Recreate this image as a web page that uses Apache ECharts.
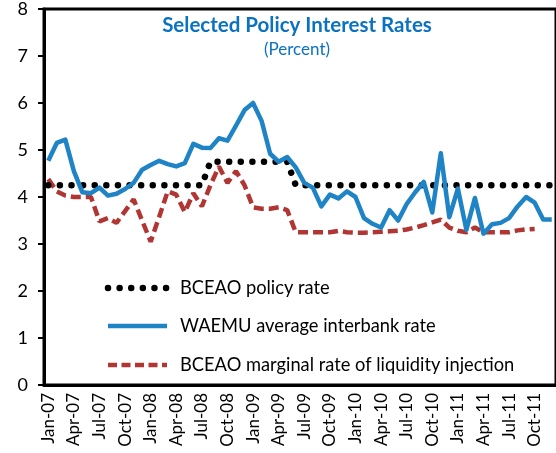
<!DOCTYPE html>
<html>
<head>
<meta charset="utf-8">
<script src="https://cdn.jsdelivr.net/npm/echarts@6/dist/echarts.min.js"></script>
<style>
  html, body { margin: 0; padding: 0; background: #fff; }
  #chart { width: 556px; height: 453px; }
</style>
</head>
<body>
<div id="chart"></div>
<script>
// monthly, Jan-07 .. Dec-11
const months = [
  'Jan-07', 'Feb-07', 'Mar-07', 'Apr-07', 'May-07', 'Jun-07', 'Jul-07', 'Aug-07', 'Sep-07', 'Oct-07', 'Nov-07', 'Dec-07',
  'Jan-08', 'Feb-08', 'Mar-08', 'Apr-08', 'May-08', 'Jun-08', 'Jul-08', 'Aug-08', 'Sep-08', 'Oct-08', 'Nov-08', 'Dec-08',
  'Jan-09', 'Feb-09', 'Mar-09', 'Apr-09', 'May-09', 'Jun-09', 'Jul-09', 'Aug-09', 'Sep-09', 'Oct-09', 'Nov-09', 'Dec-09',
  'Jan-10', 'Feb-10', 'Mar-10', 'Apr-10', 'May-10', 'Jun-10', 'Jul-10', 'Aug-10', 'Sep-10', 'Oct-10', 'Nov-10', 'Dec-10',
  'Jan-11', 'Feb-11', 'Mar-11', 'Apr-11', 'May-11', 'Jun-11', 'Jul-11', 'Aug-11', 'Sep-11', 'Oct-11', 'Nov-11', 'Dec-11'
]

const policyRate = [
  4.25, 4.25, 4.25, 4.25, 4.25, 4.25, 4.25, 4.25, 4.25, 4.25, 4.25, 4.25,
  4.25, 4.25, 4.25, 4.25, 4.25, 4.25, 4.25, 4.75, 4.75, 4.75, 4.75, 4.75,
  4.75, 4.75, 4.75, 4.75, 4.75, 4.25, 4.25, 4.25, 4.25, 4.25, 4.25, 4.25,
  4.25, 4.25, 4.25, 4.25, 4.25, 4.25, 4.25, 4.25, 4.25, 4.25, 4.25, 4.25,
  4.25, 4.25, 4.25, 4.25, 4.25, 4.25, 4.25, 4.25, 4.25, 4.25, 4.25, 4.25
]

const interbankRate = [
  4.77, 5.15, 5.22, 4.55, 4.10, 4.08, 4.20, 4.03, 4.07, 4.17, 4.30, 4.58,
  4.68, 4.77, 4.70, 4.65, 4.72, 5.13, 5.05, 5.04, 5.25, 5.20, 5.52, 5.85,
  6.00, 5.62, 4.92, 4.75, 4.85, 4.63, 4.30, 4.20, 3.80, 4.05, 3.97, 4.12,
  4.00, 3.55, 3.43, 3.35, 3.72, 3.50, 3.85, 4.10, 4.32, 3.67, 4.93, 3.57,
  4.18, 3.30, 3.98, 3.22, 3.42, 3.45, 3.55, 3.80, 4.00, 3.88, 3.52, 3.52
]

const injectionRate = [
  4.38, 4.12, 4.03, 4.00, 4.00, 4.00, 3.48, 3.55, 3.45, 3.70, 3.95, 3.50,
  3.05, 3.58, 4.12, 4.05, 3.68, 4.08, 3.80, 4.25, 4.65, 4.30, 4.55, 4.25,
  3.78, 3.75, 3.75, 3.78, 3.72, 3.25, 3.25, 3.25, 3.25, 3.25, 3.28, 3.25,
  3.24, 3.24, 3.25, 3.26, 3.27, 3.28, 3.31, 3.35, 3.40, 3.46, 3.52, 3.35,
  3.28, 3.25, 3.35, 3.25, 3.25, 3.25, 3.25, 3.29, 3.31, 3.32, null, null
]

const seriesNames = ['BCEAO policy rate', 'WAEMU average interbank rate', 'BCEAO marginal rate of liquidity injection']

const font = 'Lato, "Open Sans", sans-serif'
const blue = '#1F84C6'
const red = '#AF3633'

const dotStyle = { color: '#000', width: 6.5, type: [0.01, 11.6], cap: 'round' }
const solidStyle = { color: blue, width: 4.5, join: 'round' }
const dashStyle = { color: red, width: 4.5, type: [10, 5] }

// legend drawn by hand so the icons keep the dotted / dashed strokes
function legendRow (y, name, stroke, dash, cap) {
  return {
    type: 'group',
    children: [
      {
        type: 'line',
        shape: { x1: 108, y1: y, x2: 167, y2: y },
        style: { stroke: stroke, lineWidth: cap === 'round' ? 6.5 : 4.5, lineDash: dash, lineCap: cap }
      },
      {
        type: 'text',
        x: 180,
        y: y,
        style: { text: name, fill: '#000', font: '18.3px ' + font, textVerticalAlign: 'middle' }
      }
    ]
  }
}

const chart = echarts.init(document.getElementById('chart'), null, { renderer: 'canvas' })

const option = {
  animation: false,
  backgroundColor: '#fff',
  title: {
    text: 'Selected Policy Interest Rates',
    subtext: '(Percent)',
    left: 292,
    top: 10,
    textAlign: 'center',
    itemGap: 5,
    textStyle: { color: '#0A72C2', fontFamily: font, fontWeight: 'bold', fontSize: 20.5 },
    subtextStyle: { color: '#0A72C2', fontFamily: font, fontSize: 17 }
  },
  graphic: [
    legendRow(288, seriesNames[0], '#000', [0.01, 11.6], 'round'),
    legendRow(326, seriesNames[1], blue, null, 'butt'),
    legendRow(365, seriesNames[2], red, [9, 4.5], 'butt')
  ],
  grid: {
    left: 44,
    right: -6,
    top: 6,
    bottom: 68,
    show: true,
    borderColor: '#000',
    borderWidth: 3,
    backgroundColor: 'transparent'
  },
  xAxis: {
    type: 'category',
    data: months,
    boundaryGap: true,
    axisLine: { lineStyle: { color: '#000', width: 3 } },
    axisTick: { alignWithLabel: true, interval: 2, length: 6, lineStyle: { color: '#000', width: 2 } },
    axisLabel: { interval: 2, rotate: 90, color: '#000', fontFamily: font, fontSize: 17, margin: 8 },
    splitLine: { show: false }
  },
  yAxis: {
    type: 'value',
    min: 0,
    max: 8,
    interval: 1,
    axisLine: { show: true, lineStyle: { color: '#000', width: 3 } },
    axisTick: { show: true, length: 6, lineStyle: { color: '#000', width: 2 } },
    axisLabel: { color: '#000', fontFamily: font, fontSize: 18, margin: 16 },
    splitLine: { show: false }
  },
  series: [
    {
      name: seriesNames[0],
      type: 'line',
      data: policyRate,
      symbol: 'none',
      z: 3,
      lineStyle: dotStyle
    },
    {
      name: seriesNames[1],
      type: 'line',
      data: interbankRate,
      symbol: 'none',
      z: 4,
      lineStyle: solidStyle
    },
    {
      name: seriesNames[2],
      type: 'line',
      data: injectionRate,
      symbol: 'none',
      z: 2,
      lineStyle: dashStyle
    }
  ]
}

chart.setOption(option)
</script>
</body>
</html>
